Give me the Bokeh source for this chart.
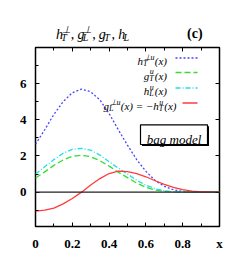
from bokeh.plotting import figure
from bokeh.layouts import column
from bokeh.models import Range1d, LinearAxis, FixedTicker, CustomJSTickFormatter, Span
from bokeh.core.properties import value
from bokeh.embed import file_html
from bokeh.resources import INLINE

# ---------------- data ----------------
x = [0.00, 0.05, 0.10, 0.15, 0.20, 0.25, 0.30, 0.35, 0.40, 0.45, 0.50,
     0.55, 0.60, 0.65, 0.70, 0.75, 0.80, 0.85, 0.90, 0.95, 1.00]
h_T_perp_u = [2.65, 3.45, 4.30, 5.00, 5.50, 5.70, 5.55, 5.10, 4.35, 3.45, 2.60,
              1.80, 1.15, 0.65, 0.32, 0.13, 0.04, 0.01, 0.00, 0.00, 0.00]
g_T_u = [0.78, 1.12, 1.48, 1.78, 1.98, 2.04, 1.96, 1.74, 1.44, 1.10, 0.80,
         0.50, 0.27, 0.12, 0.05, 0.02, 0.01, 0.00, 0.00, 0.00, 0.00]
h_L_u = [1.00, 1.40, 1.80, 2.15, 2.37, 2.42, 2.32, 2.05, 1.68, 1.33, 1.00,
         0.66, 0.38, 0.19, 0.07, 0.02, 0.01, 0.00, 0.00, 0.00, 0.00]
g_L_perp_u = [-1.05, -1.00, -0.88, -0.65, -0.35, 0.00, 0.40, 0.75, 1.03, 1.16, 1.14,
              1.03, 0.85, 0.63, 0.43, 0.26, 0.14, 0.06, 0.02, 0.01, 0.00]

x_ticks = [0, 0.2, 0.4, 0.6, 0.8, 1.0]
x_minor = [0.1, 0.3, 0.5, 0.7, 0.9]
y_ticks = [0, 2, 4, 6]
y_minor = [-1, 1, 3, 5, 7]

# ---------------- layout ----------------
PAGE_W = 239
TITLE_H = 42
X0, X1 = 0.0, 1.0
Y0, Y1 = -1.9, 8.0
FL, FT, FW, FH = 35, 47, 184, 179   # frame position on the page (px)

def px2x(px):
    return X0 + (px - FL) / FW * (X1 - X0)

def py2y(py):
    return Y1 - (py - FT) / FH * (Y1 - Y0)

SERIF = "Liberation Serif"
BLUE, GREEN, CYAN, RED = "#4646ff", "#33dd33", "#22e0e0", "#ff3b3b"
PERP = "\u22a5"
MINUS = "\u2212"

W = {'h': .5, 'g': .5, 'x': .444, 'T': .556, 'L': .556, 'u': .5, '(': .333,
     ')': .333, ' ': .25, '=': .675, MINUS: .675, ',': .25, PERP: .84}

def tw(s, size):
    return sum(W.get(c, .5) for c in s) * size

# ---------------- title strip ----------------
t = figure(width=PAGE_W, height=TITLE_H, x_range=Range1d(0, PAGE_W),
           y_range=Range1d(TITLE_H, 0), min_border=0,
           x_axis_location=None, y_axis_location=None,
           output_backend="svg", toolbar_location=None)
t.grid.visible = False
t.outline_line_color = None
t.background_fill_color = "white"
t.border_fill_color = "white"

# ---------------- main plot ----------------
p = figure(x_range=Range1d(X0, X1), y_range=Range1d(Y0, Y1),
           frame_width=FW, frame_height=FH,
           min_border_left=FL, min_border_right=PAGE_W - FL - FW,
           min_border_top=FT - TITLE_H, min_border_bottom=26,
           output_backend="svg", toolbar_location=None)
p.grid.visible = False
p.outline_line_color = "black"
p.outline_line_width = 1.5
p.background_fill_color = "white"
p.border_fill_color = "white"

def style_axis(ax, ticks, minor, labels, fmt_code):
    ax.ticker = FixedTicker(ticks=ticks, minor_ticks=minor)
    ax.axis_line_color = None
    ax.major_tick_in = 4
    ax.major_tick_out = 0
    ax.minor_tick_in = 3
    ax.minor_tick_out = 0
    ax.major_tick_line_color = "black"
    ax.minor_tick_line_color = "black"
    ax.formatter = CustomJSTickFormatter(code=fmt_code)
    if labels:
        ax.major_label_text_font = SERIF
        ax.major_label_text_font_style = "bold"
        ax.major_label_text_font_size = "13px"
        ax.major_label_text_color = "black"
        ax.major_label_standoff = 9
    else:
        ax.major_label_standoff = 0
        ax.major_label_text_font_size = "0px"

xfmt = "return tick > 0.99 ? 'x' : (Math.abs(tick) < 1e-9 ? '0' : tick.toFixed(1));"
yfmt = "return tick.toFixed(0);"
nofmt = "return '';"

style_axis(p.xaxis[0], x_ticks, x_minor, True, xfmt)
style_axis(p.yaxis[0], y_ticks, y_minor, True, yfmt)
top_ax = LinearAxis()
p.add_layout(top_ax, "above")
style_axis(top_ax, x_ticks, x_minor, False, nofmt)
right_ax = LinearAxis()
p.add_layout(right_ax, "right")
style_axis(right_ax, y_ticks, [], False, nofmt)

p.add_layout(Span(location=0, dimension="width", line_color="#222222", line_width=1.2))

p.line(x, h_T_perp_u, line_color=BLUE, line_width=1.3, line_dash="2 2")
p.line(x, g_T_u, line_color=GREEN, line_width=1.3, line_dash="6 3")
p.line(x, h_L_u, line_color=CYAN, line_width=1.3, line_dash="5 2 1 2")
p.line(x, g_L_perp_u, line_color=RED, line_width=1.3)

# ---------------- text helpers ----------------
def put(fig, tx, ty, text, size, style="italic", align="left"):
    fig.text(x=[tx], y=[ty], text=[text], text_font=value(SERIF),
             text_font_size=value(f"{size}px"), text_font_style=style,
             text_align=align, text_baseline="alphabetic", text_color="black")

def math_left(fig, pieces, px, py, size, ssize, sub_dy, sup_dy, mx, my):
    cx = px
    for pc in pieces:
        if pc[0] == "t":
            put(fig, mx(cx), my(py), pc[1], size, pc[2])
            cx += tw(pc[1], size)
        elif pc[0] == "sp":
            cx += pc[1]
        else:
            if pc[1]:
                put(fig, mx(cx), my(py + sub_dy), pc[1], ssize)
            if pc[2]:
                put(fig, mx(cx + 0.5), my(py + sup_dy), pc[2], ssize)
            cx += max(tw(pc[1] or "", ssize), tw(pc[2] or "", ssize)) + 1

def math_right(fig, pieces, px, py, size, ssize, sub_dy, sup_dy, mx, my):
    cx = px
    for pc in reversed(pieces):
        if pc[0] == "t":
            put(fig, mx(cx), my(py), pc[1], size, pc[2], "right")
            cx -= tw(pc[1], size)
        elif pc[0] == "sp":
            cx -= pc[1]
        else:
            w = max(tw(pc[1] or "", ssize), tw(pc[2] or "", ssize)) + 1
            cx -= w
            if pc[1]:
                put(fig, mx(cx), my(py + sub_dy), pc[1], ssize)
            if pc[2]:
                put(fig, mx(cx + 0.5), my(py + sup_dy), pc[2], ssize)

ident = lambda v: v

# title
title = [("t", "h", "italic"), ("ss", "T", PERP), ("sp", 3), ("t", ",", "normal"), ("sp", 5),
         ("t", "g", "italic"), ("ss", "L", PERP), ("sp", 3), ("t", ",", "normal"), ("sp", 5),
         ("t", "g", "italic"), ("ss", "T", None), ("sp", 3), ("t", ",", "normal"), ("sp", 5),
         ("t", "h", "italic"), ("ss", "L", None)]
math_left(t, title, 26.5, 33.5, 14, 10, 3.8, -5, ident, ident)
put(t, 217, 32.5, "(c)", 14, "bold", "right")

# legend
rows = [57.5, 72.0, 87.5, 102.5]
legend_items = [
    ([("t", "h", "italic"), ("ss", "T", PERP + "u"), ("t", "(x)", "italic")], 166.5, BLUE, "2 2", 175),
    ([("t", "g", "italic"), ("ss", "T", "u"), ("t", "(x)", "italic")], 166.5, GREEN, "6 3", 175),
    ([("t", "h", "italic"), ("ss", "L", "u"), ("t", "(x)", "italic")], 166.5, CYAN, "5 2 1 2", 175),
    ([("t", "g", "italic"), ("ss", "L", PERP + "u"), ("t", "(x) = " + MINUS + "h", "italic"),
      ("ss", "T", "u"), ("t", "(x)", "italic")], 176, RED, "solid", 182),
]
for (pieces, right, col, dash, x_start), ry in zip(legend_items, rows):
    math_right(p, pieces, right, ry + 3, 11, 8, 2.5, -4, px2x, py2y)
    p.line([px2x(x_start), px2x(197)], [py2y(ry), py2y(ry)],
           line_color=col, line_width=1.3, line_dash=dash)

# bag model box (shadow + box)
p.quad(left=[px2x(141.5)], right=[px2x(208.5)], top=[py2y(125.8)], bottom=[py2y(145.5)],
       fill_color="black", line_color=None)
p.quad(left=[px2x(140)], right=[px2x(207)], top=[py2y(124.3)], bottom=[py2y(144)],
       fill_color="white", line_color="black", line_width=1.2)
put(p, px2x(173.5), py2y(138.5), "bag model", 13, "italic", "center")

layout = column(t, p, spacing=0)
open("out.html", "w").write(file_html(layout, INLINE))
